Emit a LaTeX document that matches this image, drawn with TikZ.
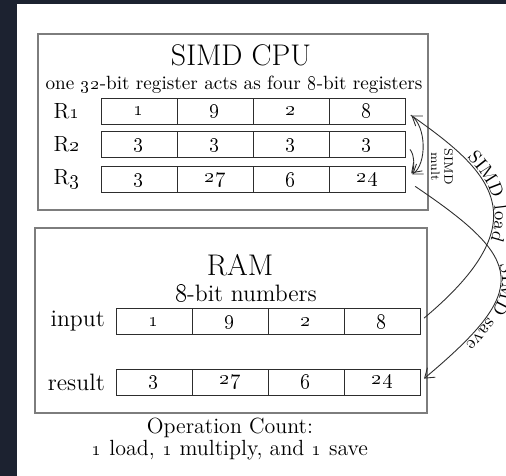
\documentclass[tikz,border=0pt]{standalone}
\usetikzlibrary{positioning}
\usetikzlibrary{chains}
\usetikzlibrary{arrows.meta}
\usetikzlibrary{decorations.text}
\definecolor{sidebar}{RGB}{28,34,48}
\definecolor{boxgray}{RGB}{125,125,125}
\definecolor{ink}{RGB}{45,45,45}
\newcommand{\os}[1]{\oldstylenums{#1}}
\tikzset{
  cell/.style={draw=ink, outer sep=0pt, inner sep=0pt, minimum width=1.52cm, minimum height=0.52cm, font=\fontsize{13}{15}\selectfont},
  panel/.style={draw=boxgray, line width=1.1pt},
  rowlabel/.style={font=\fontsize{12.5}{14}\selectfont},
  move/.style={draw=ink, line width=0.5pt, >={Straight Barb[length=5pt,width=7pt]}},
  curvedlabel/.style={postaction={decorate, decoration={text along path, text={|\fontsize{10.5}{12}\selectfont|#1}, raise=1.5pt}}}
}
\begin{document}
\begin{tikzpicture}[node distance=0pt]
  \useasboundingbox (0,0) rectangle (10.12,-9.52);
  \fill[white] (0,0) rectangle (10.12,-9.52);
  \fill[sidebar] (0,0) rectangle (0.34,-9.52);
  \fill[sidebar] (0,0) rectangle (10.12,-0.08);

  % cpu with its three registers
  \draw[panel] (0.76,-0.68) rectangle (8.56,-4.2);
  \node[font=\fontsize{17}{20}\selectfont] (cpu) at (4.82,-1.1) {SIMD CPU};
  \node[font=\fontsize{10.9}{12}\selectfont] (cpusub) at (4.68,-1.7) {one \os{32}-bit register acts as four \os{8}-bit registers};

  \begin{scope}[start chain=r1 going right, every node/.style={on chain, cell}]
    \node (r1a) at (2.78,-2.22) {\os{1}};
    \node (r1b) {\os{9}};
    \node (r1c) {\os{2}};
    \node (r1d) {\os{8}};
  \end{scope}
  \begin{scope}[start chain=r2 going right, every node/.style={on chain, cell}]
    \node (r2a) at (2.78,-2.89) {\os{3}};
    \node (r2b) {\os{3}};
    \node (r2c) {\os{3}};
    \node (r2d) {\os{3}};
  \end{scope}
  \begin{scope}[start chain=r3 going right, every node/.style={on chain, cell}]
    \node (r3a) at (2.78,-3.59) {\os{3}};
    \node (r3b) {\os{27}};
    \node (r3c) {\os{6}};
    \node (r3d) {\os{24}};
  \end{scope}
  \node[rowlabel, left=0.3cm of r1a] (lr1) {R\os{1}};
  \node[rowlabel, left=0.3cm of r2a] (lr2) {R\os{2}};
  \node[rowlabel, left=0.3cm of r3a] (lr3) {R\os{3}};

  % memory
  \draw[panel] (0.7,-4.56) rectangle (8.54,-8.26);
  \node[font=\fontsize{17}{20}\selectfont] (ram) at (4.8,-5.3) {RAM};
  \node[font=\fontsize{13.5}{15}\selectfont] (ramsub) at (4.92,-5.86) {\os{8}-bit numbers};

  \begin{scope}[start chain=in going right, every node/.style={on chain, cell}]
    \node (ina) at (3.08,-6.43) {\os{1}};
    \node (inb) {\os{9}};
    \node (inc) {\os{2}};
    \node (ind) {\os{8}};
  \end{scope}
  \begin{scope}[start chain=out going right, every node/.style={on chain, cell}]
    \node (outa) at (3.08,-7.64) {\os{3}};
    \node (outb) {\os{27}};
    \node (outc) {\os{6}};
    \node (outd) {\os{24}};
  \end{scope}
  \node[font=\fontsize{13.5}{15}\selectfont, left=0.1cm of ina] (lin) {input};
  \node[font=\fontsize{13.5}{15}\selectfont, left=0.1cm of outa] (lout) {result};

  \node[font=\fontsize{12.5}{10.5}\selectfont, align=center] (count) at (4.6,-8.78)
    {Operation Count:\\ \os{1} load, \os{1} multiply, and \os{1} save};

  % load, multiply, save
  \draw[move, <-, shorten <=4.5pt, shorten >=3pt, curvedlabel={SIMD load},
        decoration={text align={left indent=1.55cm}}]
    (r1d.east) .. controls +(1.7,-1.2) and +(2.45,2.05) .. (ind.east);
  \draw[move, ->, shorten <=7pt, shorten >=3pt, curvedlabel={SIMD save},
        decoration={text align={left indent=2.55cm}}]
    (r3d.east) .. controls +(2.4,-1.62) and +(2.22,1.86) .. (outd.east);
  \draw[move, ->, shorten <=4pt, shorten >=5pt] (r1d.east) to[bend left=55] (r3d.east);
  \draw[move, ->, shorten <=4pt, shorten >=5pt] (r2d.east) to[bend left=45] (r3d.east);
  \node[font=\fontsize{7}{7.5}\selectfont, rotate=-90, align=center] (multlabel) at (8.84,-3.34) {SIMD\\mult};
\end{tikzpicture}
\end{document}
